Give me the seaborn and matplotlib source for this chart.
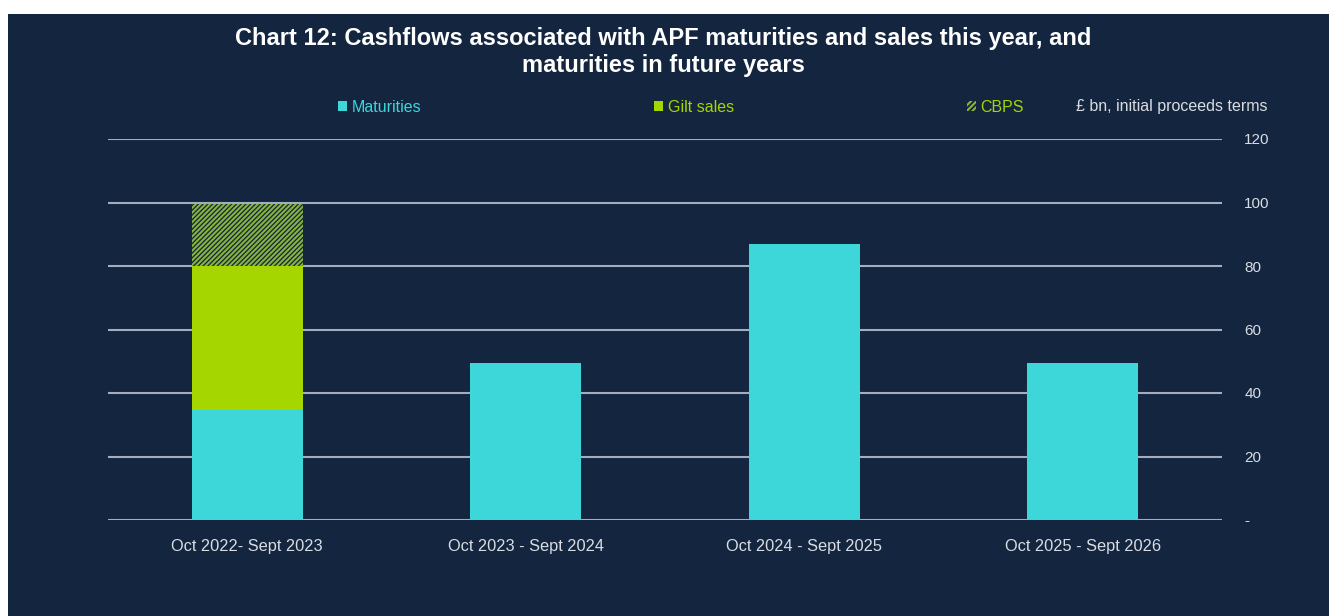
import numpy as np
import pandas as pd
import matplotlib
matplotlib.use('Agg')
import matplotlib.pyplot as plt
from matplotlib.patches import Patch, Rectangle
import seaborn as sns

# 数据
periods = ['Oct 2022- Sept 2023', 'Oct 2023 - Sept 2024', 'Oct 2024 - Sept 2025', 'Oct 2025 - Sept 2026']
maturities = [34.8, 49.6, 86.8, 49.6]
gilt_sales = [45.2, 0, 0, 0]
cbps = [19.4, 0, 0, 0]
y_ticks = [0, 20, 40, 60, 80, 100, 120]
y_tick_labels = ['-', '20', '40', '60', '80', '100', '120']

bg = '#13253f'
c_mat = '#3dd7da'
c_gilt = '#a6d600'
c_cbps = '#86b43c'
grid_c = '#a3adbc'
txt_c = '#d9dde3'

sns.set_style('white')
plt.rcParams['font.family'] = ['Liberation Sans', 'DejaVu Sans']
plt.rcParams['hatch.linewidth'] = 1.5

df = pd.DataFrame({'period': periods, 'mat': maturities, 'gilt': gilt_sales, 'cbps': cbps})
df['top_gilt'] = df['mat'] + df['gilt']
df['top_cbps'] = df['top_gilt'] + df['cbps']

fig = plt.figure(figsize=(13.31, 6.16), dpi=100, facecolor='white')
# 深色背景区域
fig.patches.append(Rectangle((8 / 1331, 0), 1321 / 1331, 602 / 616, transform=fig.transFigure,
                             facecolor=bg, edgecolor='none', zorder=-5))
ax = fig.add_axes([108 / 1331, 96 / 616, 1114 / 1331, 381 / 616])
ax.set_zorder(2)
ax.set_facecolor(bg)

# 堆叠柱：从最高一层往下画，覆盖
sns.barplot(data=df, x='period', y='top_cbps', color=bg, width=0.4, saturation=1, ax=ax, zorder=2)
for p in ax.patches:
    p.set_hatch('///////')
    p.set_edgecolor(c_cbps)
    p.set_linewidth(0)
n = len(ax.patches)
sns.barplot(data=df, x='period', y='top_gilt', color=c_gilt, width=0.4, saturation=1, ax=ax, zorder=3)
sns.barplot(data=df, x='period', y='mat', color=c_mat, width=0.4, saturation=1, ax=ax, zorder=4)
for p in ax.patches[n:]:
    p.set_linewidth(0)

ax.set_xlim(-0.5, 3.5)
ax.set_ylim(0, 120)
ax.set_yticks(y_ticks)
ax.set_yticklabels(y_tick_labels)
ax.yaxis.tick_right()
ax.yaxis.grid(True, color=grid_c, linewidth=1.5)
ax.set_axisbelow(True)
for s in ax.spines.values():
    s.set_visible(False)
ax.tick_params(axis='y', length=0, pad=16, labelsize=11, labelcolor=txt_c)
ax.tick_params(axis='x', length=0, pad=14, labelsize=11.8, labelcolor=txt_c)
ax.set_xlabel('')
ax.set_ylabel('')

fig.text(663 / 1331, 1 - 52 / 616,
         'Chart 12: Cashflows associated with APF maturities and sales this year, and\nmaturities in future years',
         ha='center', va='center', color='white', fontsize=17, fontweight='bold', linespacing=1.25)

handles = [Patch(facecolor=c_mat, edgecolor='none'),
           Patch(facecolor=c_gilt, edgecolor='none'),
           Patch(facecolor=bg, edgecolor=c_cbps, hatch='//////', linewidth=0)]
leg = fig.legend(handles, ['Maturities', 'Gilt sales', 'CBPS'], loc='center', ncol=3,
                 bbox_to_anchor=(681 / 1331, 1 - 107 / 616), frameon=False, fontsize=11.5,
                 handlelength=0.55, handleheight=0.55, handletextpad=0.3, columnspacing=14.6,
                 labelcolor=[c_mat, c_gilt, c_gilt])

fig.text(1267 / 1331, 1 - 107 / 616, '£ bn, initial proceeds terms', ha='right', va='center',
         color=txt_c, fontsize=11.5)

fig.savefig('out.png', dpi=100, facecolor='white')
